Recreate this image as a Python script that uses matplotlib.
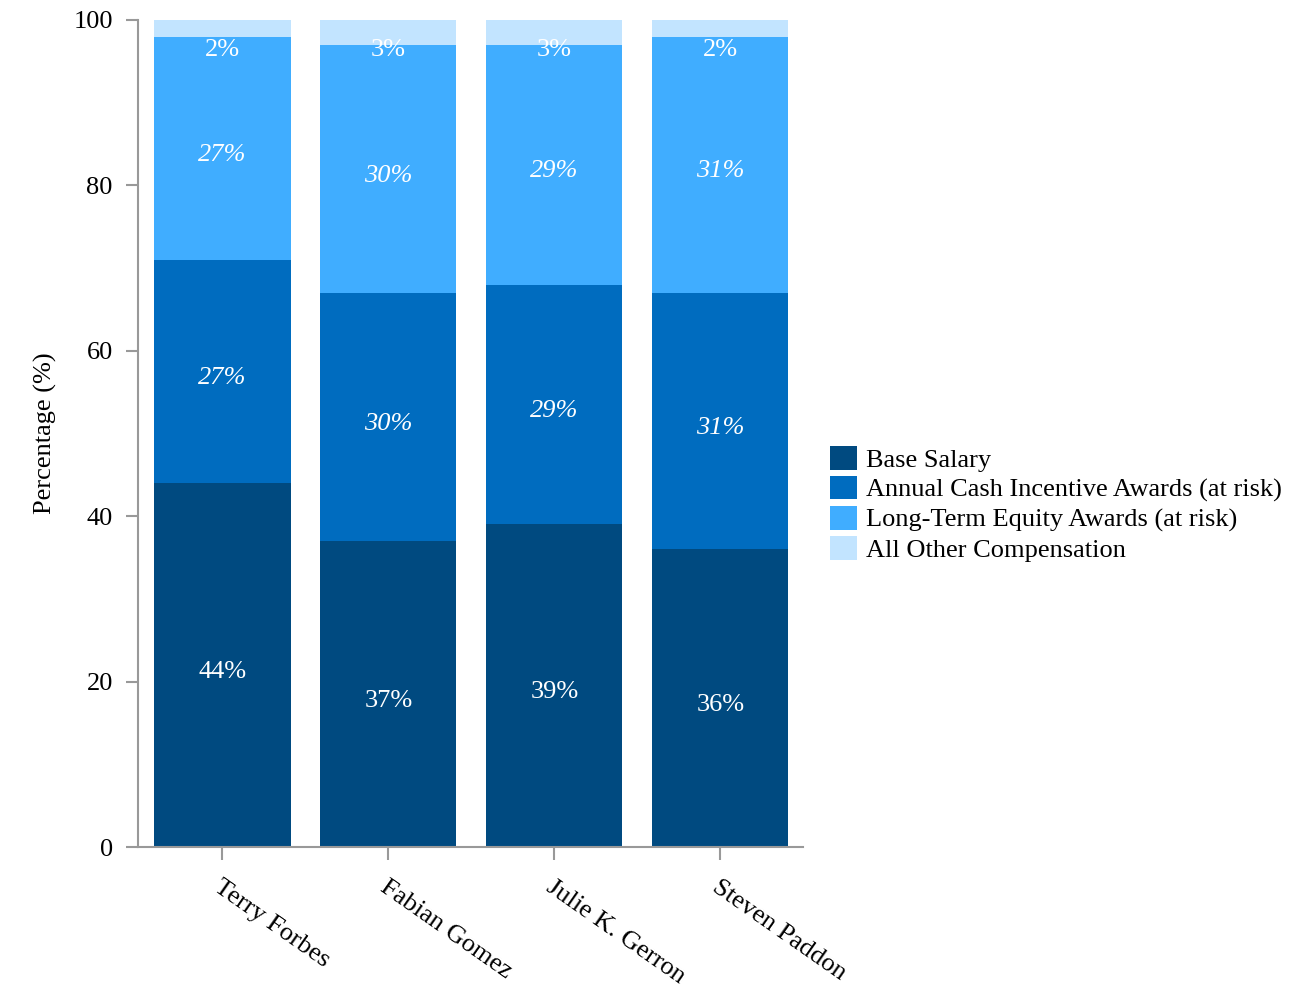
import matplotlib.pyplot as plt
import numpy as np

plt.rcParams['font.family'] = ['Liberation Serif', 'DejaVu Serif']

# Compensation mix per executive (%)
executives = ['Terry Forbes', 'Fabian Gomez', 'Julie K. Gerron', 'Steven Paddon']
base_salary = [44, 37, 39, 36]
cash_incentive = [27, 30, 29, 31]
equity_awards = [27, 30, 29, 31]
other_comp = [2, 3, 3, 2]

series = [
    ('Base Salary', base_salary, '#004a80', 'normal'),
    ('Annual Cash Incentive Awards (at risk)', cash_incentive, '#006cbf', 'italic'),
    ('Long-Term Equity Awards (at risk)', equity_awards, '#40adff', 'italic'),
    ('All Other Compensation', other_comp, '#c2e4ff', 'normal'),
]

fig = plt.figure(figsize=(13, 10), dpi=100)
ax = fig.add_axes([0.106, 0.153, 0.512, 0.827])

x = np.arange(len(executives))
bottom = np.zeros(len(executives))
for name, vals, color, style in series:
    vals = np.array(vals, dtype=float)
    ax.bar(x, vals, width=0.82, bottom=bottom, color=color, label=name)
    for xi, b, v in zip(x, bottom, vals):
        ypos = min(b + v / 2, 97.2)
        ax.annotate(f'{int(v)}%', (xi, ypos), xytext=(0, -3), textcoords='offset points',
                    ha='center', va='center_baseline', color='white', fontsize=19, style=style)
    bottom += vals

ax.set_xlim(-0.51, 3.5)
ax.set_ylim(0, 100)
ax.set_yticks([0, 20, 40, 60, 80, 100])
ax.set_xticks(x)
ax.set_xticklabels(executives, rotation=-35, ha='left', rotation_mode='anchor')
ax.set_ylabel('Percentage (%)', fontsize=19, labelpad=12)

for s in ['top', 'right']:
    ax.spines[s].set_visible(False)
for s in ['left', 'bottom']:
    ax.spines[s].set_color('#999999')
    ax.spines[s].set_linewidth(1.5)
ax.tick_params(axis='both', colors='#999999', labelcolor='black', labelsize=19, length=9, width=1.5)
ax.tick_params(axis='x', pad=12)
ax.tick_params(axis='y', pad=9)

fig.legend(loc='center left', bbox_to_anchor=(0.630, 0.496), frameon=False,
           fontsize=19, handlelength=1.05, handleheight=1.0, handletextpad=0.35,
           labelspacing=0.15, borderaxespad=0)

fig.savefig('out.png', dpi=100)
